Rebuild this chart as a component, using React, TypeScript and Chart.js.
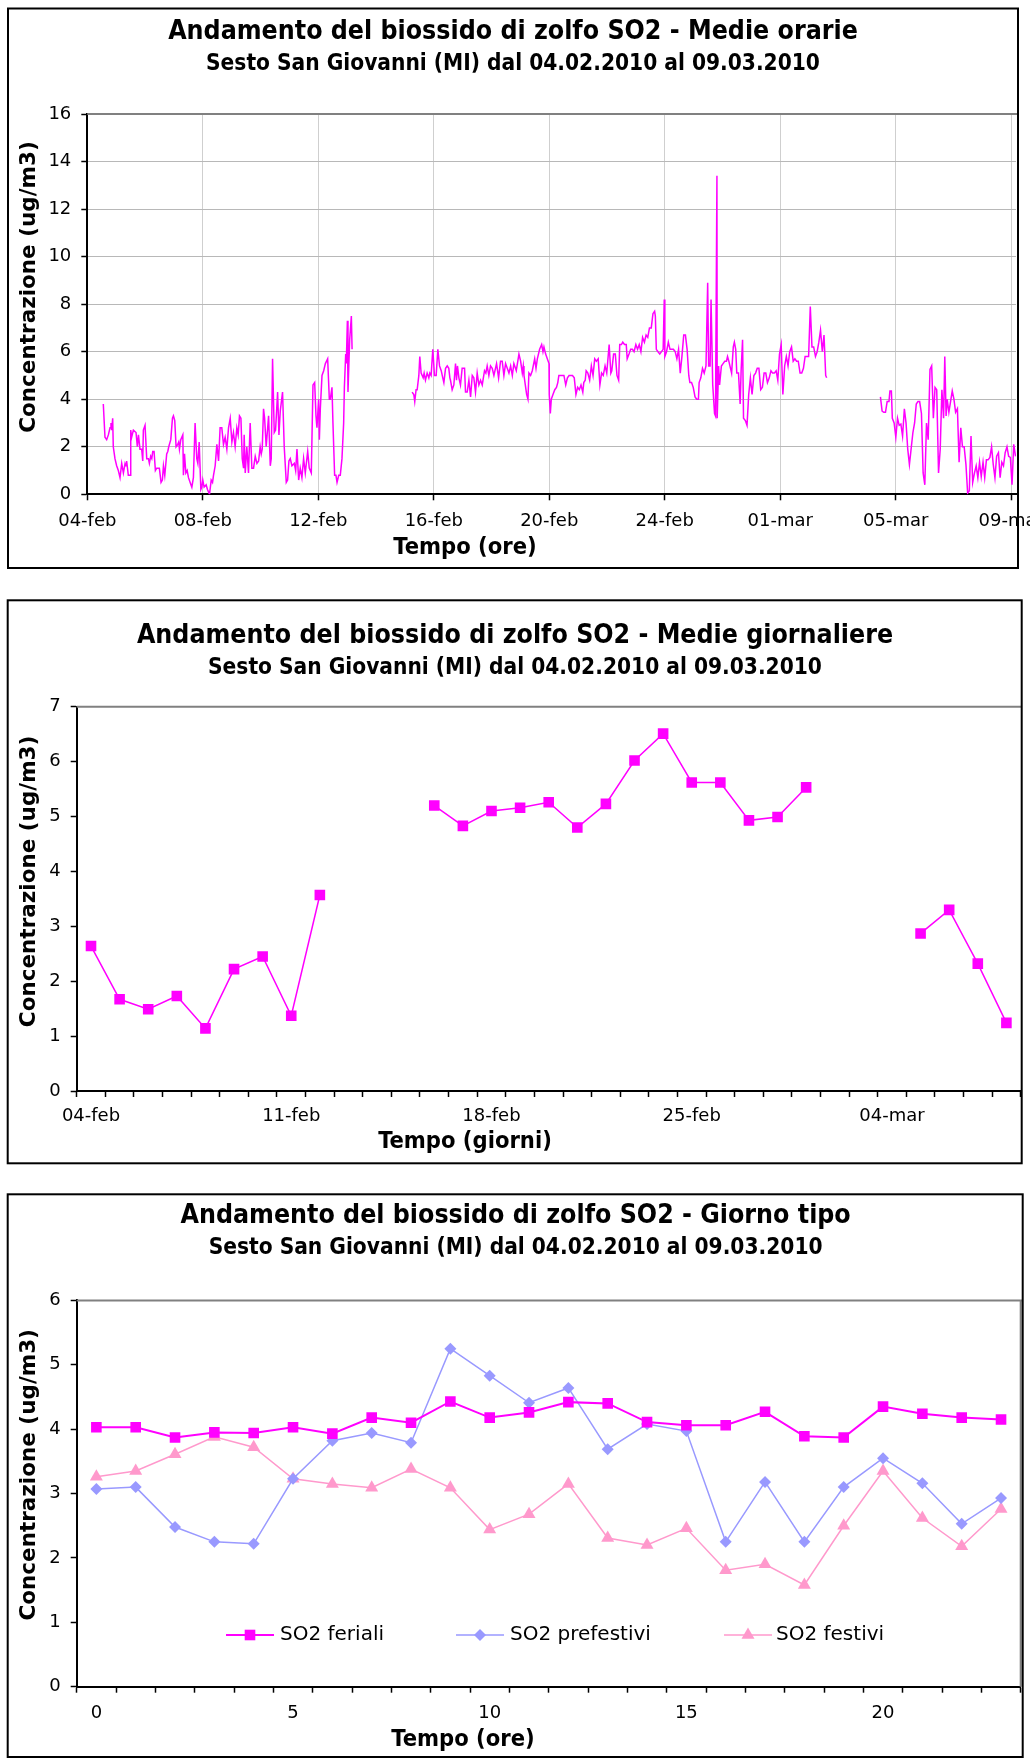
import React, { useEffect, useRef } from 'react';
import { Chart, registerables } from 'chart.js';

Chart.register(...registerables);

const FONT = '"DejaVu Sans", "Liberation Sans", sans-serif';
const COND = '"DejaVu Sans Condensed", "Liberation Sans Narrow", "DejaVu Sans", sans-serif';

const SUBTITLE = 'Sesto San Giovanni (MI) dal 04.02.2010 al 09.03.2010';
const Y_TITLE = 'Concentrazione (ug/m3)';

// ---------- Chart 1: hourly averages (hour since 04-feb 00:00, ug/m3)
const tickOrarie = ['04-feb', '08-feb', '12-feb', '16-feb', '20-feb', '24-feb', '01-mar', '05-mar', '09-mar'];

const orarie1: [number, number][] = [[13.3,3.8],[14.7,2.4],[16.1,2.3],[17.5,2.5],[18.9,2.8],[19.7,3.0],[20.3,2.7],[21.1,3.2],[21.6,2.0],[23.0,1.5],[24.4,1.2],[25.8,1.0],[27.2,0.7],[28.6,1.3],[30.0,0.9],[31.4,1.3],[32.2,1.2],[32.7,1.4],[34.1,0.8],[35.5,0.8],[36.1,2.7],[36.9,2.4],[38.3,2.7],[40.5,2.6],[41.6,2.0],[42.5,2.5],[43.8,1.9],[45.2,1.9],[46.1,1.4],[46.6,2.7],[48.0,2.9],[49.4,1.5],[50.8,1.5],[51.6,1.3],[52.7,1.6],[53.6,1.5],[54.4,1.8],[55.5,1.8],[56.6,1.0],[57.7,1.1],[59.9,1.1],[61.3,0.5],[62.4,0.6],[63.3,1.2],[64.4,0.8],[66.0,1.7],[66.9,1.8],[67.7,2.0],[69.4,2.3],[70.8,3.2],[71.6,3.3],[72.7,3.1],[73.8,2.0],[75.2,2.1],[76.0,2.2],[76.6,1.9],[77.7,2.3],[79.4,2.5],[79.9,0.8],[80.8,1.7],[81.9,0.9],[83.0,1.0],[84.1,0.7],[85.5,0.5],[86.9,0.3],[88.2,0.7],[89.6,3.0],[91.0,1.5],[91.9,1.3],[93.0,2.2],[94.4,0.2],[95.2,0.3],[96.0,0.6],[97.1,0.3],[98.8,0.4],[99.9,0.2],[101.6,0.0],[103.0,0.6],[104.1,0.5],[104.9,0.8],[106.3,1.2],[107.7,2.1],[109.1,1.4],[110.4,2.8],[111.8,2.8],[113.2,2.1],[114.6,2.4],[116.0,1.9],[117.4,2.8],[118.8,3.2],[120.2,2.2],[121.5,2.6],[122.9,2.0],[124.3,2.8],[125.4,2.5],[126.5,3.3],[127.7,3.2],[128.8,1.5],[129.9,1.1],[130.4,2.5],[131.3,0.9],[132.6,2.0],[134.0,0.9],[135.4,3.0],[136.8,1.1],[138.2,1.1],[139.6,1.6],[141.0,1.3],[142.4,1.4],[143.7,2.0],[144.6,1.7],[145.4,1.9],[146.5,3.6],[147.4,3.2],[148.7,2.0],[150.7,3.3],[152.1,1.2],[152.9,1.5],[154.0,5.7],[155.4,2.6],[156.5,2.7],[158.2,4.3],[159.3,2.5],[160.4,3.5],[162.3,4.3],[163.7,2.0],[165.4,0.5],[166.5,0.6],[167.6,1.4],[168.7,1.5],[170.1,1.2],[172.1,1.3],[173.2,1.0],[174.3,1.9],[175.7,0.6],[177.0,1.1],[178.4,0.7],[179.8,1.5],[181.2,0.9],[183.2,1.8],[184.5,1.1],[186.2,0.9],[187.6,4.6],[189.0,4.7],[190.1,3.3],[190.9,2.8],[192.3,4.0],[192.9,2.3],[193.7,3.6],[195.1,5.0],[196.5,5.2],[197.9,5.5],[199.8,5.7],[201.2,4.0],[202.0,4.0],[203.4,4.5],[204.2,3.0],[205.6,0.8],[206.7,0.8],[207.6,0.5],[209.0,0.8],[210.3,0.8],[211.7,1.5],[213.1,3.0],[213.7,4.5],[214.8,5.9],[215.3,5.5],[216.2,7.3],[216.7,4.3],[218.1,6.5],[219.5,7.5],[220.1,6.1]];

const orarie2: [number, number][] = [[270.0,4.3],[271.4,4.2],[272.2,3.9],[273.3,4.4],[274.2,4.4],[275.6,5.0],[276.4,5.8],[277.5,5.1],[279.2,4.9],[280.0,5.1],[281.1,4.8],[282.5,5.1],[283.9,4.9],[284.7,5.1],[285.8,5.0],[287.2,6.1],[288.6,5.0],[290.0,5.0],[291.4,6.1],[292.8,5.4],[294.2,5.2],[295.5,4.9],[296.4,4.7],[297.8,5.3],[299.2,5.4],[300.5,5.3],[301.4,4.9],[301.9,4.8],[303.3,4.4],[304.7,4.6],[306.1,5.5],[306.9,4.8],[307.7,5.4],[308.9,4.9],[310.2,4.6],[311.6,5.3],[313.6,5.3],[314.4,4.3],[315.8,4.3],[317.2,4.8],[318.6,4.1],[320.0,5.0],[321.3,4.9],[322.7,4.3],[324.1,5.1],[325.5,4.6],[326.9,4.8],[328.3,4.6],[330.2,5.2],[331.3,5.1],[332.4,5.4],[333.8,5.0],[335.2,5.4],[336.6,5.3],[338.0,5.0],[340.2,5.5],[341.9,4.9],[343.5,5.6],[344.9,5.6],[346.3,5.0],[347.7,5.5],[349.1,5.3],[350.5,5.1],[351.9,5.4],[353.3,5.0],[354.6,5.5],[356.6,5.2],[358.8,5.9],[360.2,5.6],[361.6,5.1],[362.4,5.4],[363.0,5.0],[365.2,4.2],[366.3,4.0],[367.1,5.1],[368.5,5.0],[369.9,5.2],[371.9,5.7],[373.0,5.3],[374.1,5.7],[376.0,6.1],[377.7,6.3],[378.8,6.0],[379.6,6.2],[381.0,5.9],[383.8,5.5],[384.0,4.2],[384.9,3.4],[385.7,4.0],[387.1,4.2],[388.6,4.4],[390.0,4.5],[391.1,4.7],[392.0,5.0],[393.4,5.0],[396.2,5.0],[397.7,4.6],[399.1,4.9],[400.5,5.0],[401.9,5.0],[403.3,5.0],[404.8,4.9],[406.2,4.2],[407.6,4.5],[409.0,4.4],[410.4,4.6],[411.9,4.3],[412.7,4.7],[413.9,4.8],[414.7,5.2],[416.1,5.1],[417.6,4.8],[419.0,5.4],[420.4,5.0],[421.8,5.7],[423.2,5.6],[424.7,5.7],[426.1,4.6],[427.5,5.1],[428.9,5.0],[430.4,5.4],[431.8,5.1],[433.8,6.3],[435.2,5.1],[436.0,5.2],[437.5,5.9],[438.9,5.9],[440.3,5.0],[441.7,4.8],[442.6,6.3],[444.0,6.3],[445.1,6.4],[446.6,6.3],[448.0,6.3],[448.8,5.7],[450.3,5.9],[451.7,6.1],[453.1,6.1],[454.5,6.0],[456.0,6.3],[457.4,6.1],[458.8,6.3],[460.2,6.0],[461.6,6.6],[463.1,6.4],[464.5,6.7],[465.9,6.6],[467.3,7.0],[468.8,7.0],[470.2,7.6],[471.6,7.7],[472.2,7.5],[473.0,6.1],[474.4,6.0],[475.9,5.9],[477.3,6.0],[478.7,6.1],[479.6,8.2],[480.1,5.8],[481.5,6.0],[483.0,6.4],[484.4,6.1],[485.8,6.1],[487.2,6.1],[488.7,6.0],[490.1,5.7],[491.5,6.1],[492.9,5.1],[494.3,5.8],[495.8,6.7],[497.2,6.7],[498.6,6.1],[500.0,5.0],[500.9,4.7],[502.3,4.7],[503.7,4.5],[505.2,4.1],[506.6,4.0],[508.0,4.0],[508.6,4.7],[510.0,4.9],[511.4,5.3],[512.8,5.1],[514.3,5.4],[515.7,8.9],[516.5,5.4],[517.7,5.4],[518.5,8.2],[519.9,4.6],[521.4,3.4],[522.2,3.3],[523.4,13.4],[523.6,3.2],[524.8,5.4],[525.6,4.6],[527.1,5.4],[528.5,5.5],[529.9,5.6],[531.3,5.6],[532.2,5.8],[533.3,5.6],[534.2,5.4],[535.6,5.1],[537.0,6.2],[537.9,6.4],[539.0,6.1],[539.9,5.1],[541.3,5.1],[542.7,3.8],[543.5,5.2],[544.7,6.5],[545.5,3.2],[547.0,3.1],[548.4,2.9],[549.8,4.2],[551.2,4.9],[552.6,4.2],[554.1,5.0],[555.5,5.1],[556.9,5.3],[558.3,5.3],[559.8,4.4],[561.2,4.5],[562.6,5.1],[564.0,5.1],[565.4,4.7],[566.9,4.9],[568.3,5.2],[569.7,5.1],[571.1,5.1],[572.6,5.2],[574.0,4.8],[575.4,5.9],[576.8,6.3],[578.2,4.2],[579.7,5.4],[581.1,5.8],[582.5,5.4],[583.9,6.0],[585.4,6.2],[586.8,5.6],[588.2,5.7],[589.6,5.6],[591.0,5.6],[592.5,5.1],[593.9,5.1],[595.3,5.3],[596.7,5.8],[599.6,5.8],[601.0,7.9],[602.4,6.2],[603.8,6.2],[605.3,5.8],[606.7,6.0],[608.1,6.4],[609.5,6.9],[611.0,6.0],[612.4,6.7],[613.8,5.0],[614.6,4.9]];

const orarie3: [number, number][] = [[659.3,4.1],[660.7,3.5],[662.1,3.45],[663.5,3.45],[664.9,3.9],[666.4,3.9],[667.2,4.35],[668.4,4.35],[669.2,3.2],[670.7,3.0],[672.1,2.4],[673.5,3.2],[674.9,2.9],[676.3,2.95],[677.7,2.45],[679.2,3.6],[680.6,3.0],[682.0,1.9],[683.4,1.25],[684.8,1.9],[686.3,2.6],[687.7,3.0],[689.1,3.8],[690.5,3.9],[691.9,3.9],[693.4,3.4],[694.8,0.9],[696.2,0.4],[697.6,3.0],[699.0,2.3],[700.5,5.25],[701.9,5.4],[703.3,3.2],[704.7,4.5],[706.1,4.4],[707.6,0.9],[709.0,1.9],[710.4,4.4],[711.8,3.2],[712.8,5.8],[713.9,3.3],[714.8,4.0],[716.2,3.45],[717.6,3.9],[719.0,4.35],[720.4,4.0],[721.8,3.45],[723.3,3.6],[724.7,1.35],[726.1,2.8],[727.5,2.0],[728.9,2.0],[730.4,1.25],[731.8,0.05],[733.2,0.15],[734.6,2.45],[736.0,0.5],[737.5,0.9],[738.9,1.2],[740.3,0.7],[741.7,1.35],[743.1,0.75],[744.6,1.35],[746.0,0.7],[747.4,1.45],[748.8,1.45],[750.3,1.55],[751.7,2.0],[753.1,1.25],[754.5,0.7],[755.9,1.6],[757.4,1.75],[758.8,0.7],[760.2,1.35],[761.6,1.2],[763.0,1.75],[764.5,2.0],[765.9,1.6],[767.3,1.55],[768.7,0.4],[770.1,2.1],[771.6,1.6]];

// ---------- Chart 2: daily averages
const giorni = ['04-feb','05-feb','06-feb','07-feb','08-feb','09-feb','10-feb','11-feb','12-feb','13-feb','14-feb','15-feb','16-feb','17-feb','18-feb','19-feb','20-feb','21-feb','22-feb','23-feb','24-feb','25-feb','26-feb','27-feb','28-feb','01-mar','02-mar','03-mar','04-mar','05-mar','06-mar','07-mar','08-mar'];
const medieGiornaliere: (number | null)[] = [2.64,1.67,1.49,1.73,1.14,2.22,2.45,1.37,3.57,null,null,null,5.2,4.83,5.1,5.16,5.26,4.8,5.23,6.02,6.51,5.62,5.62,4.93,4.99,5.53,null,null,null,2.87,3.3,2.32,1.24];

// ---------- Chart 3: typical day
const ore = ['0','1','2','3','4','5','6','7','8','9','10','11','12','13','14','15','16','17','18','19','20','21','22','23'];
const feriali = [4.03,4.03,3.87,3.95,3.94,4.03,3.93,4.18,4.1,4.43,4.18,4.26,4.42,4.4,4.11,4.06,4.06,4.27,3.89,3.87,4.35,4.24,4.18,4.15];
const prefestivi = [3.07,3.1,2.48,2.25,2.22,3.23,3.82,3.94,3.79,5.25,4.83,4.41,4.64,3.69,4.08,3.97,2.25,3.18,2.25,3.1,3.55,3.16,2.53,2.93];
const festivi = [3.26,3.35,3.61,3.88,3.72,3.23,3.15,3.09,3.38,3.09,2.44,2.68,3.15,2.31,2.2,2.46,1.81,1.9,1.58,2.5,3.35,2.62,2.18,2.76];

type Decor = {
  name: string;
  title: string;
  titleX: number; t1y: number; t2y: number;
  xTitle: string; xtx: number; xty: number;
  ytx: number; yty: number;
  frame: [number, number, number, number];
  rightLine?: boolean;
  legend?: { y: number; items: { sx: number; tx: number }[] };
};

function drawMarker(ctx: CanvasRenderingContext2D, style: string, x: number, y: number, r: number) {
  ctx.beginPath();
  if (style === 'rect') {
    const s = Math.SQRT1_2 * r;
    ctx.rect(x - s, y - s, 2 * s, 2 * s);
  } else if (style === 'rectRot') {
    ctx.moveTo(x - r, y); ctx.lineTo(x, y - r); ctx.lineTo(x + r, y); ctx.lineTo(x, y + r); ctx.closePath();
  } else if (style === 'triangle') {
    ctx.moveTo(x, y - r);
    ctx.lineTo(x + Math.sin(2 * Math.PI / 3) * r, y + r / 2);
    ctx.lineTo(x - Math.sin(2 * Math.PI / 3) * r, y + r / 2);
    ctx.closePath();
  }
  ctx.fill();
}

function makeDecor(cfg: Decor) {
  return {
    id: 'decor_' + cfg.name,
    beforeDraw(chart: any) {
      const ctx = chart.ctx as CanvasRenderingContext2D;
      ctx.save();
      ctx.fillStyle = '#ffffff';
      ctx.fillRect(0, 0, chart.width, chart.height);
      ctx.restore();
    },
    afterDraw(chart: any) {
      const ctx = chart.ctx as CanvasRenderingContext2D;
      const a = chart.chartArea;
      const [fx, fy, fw, fh] = cfg.frame;
      ctx.save();
      ctx.strokeStyle = '#808080';
      ctx.lineWidth = 2;
      ctx.beginPath();
      ctx.moveTo(a.left, a.top);
      ctx.lineTo(fx + fw, a.top);
      ctx.stroke();
      if (cfg.rightLine) {
        ctx.beginPath();
        ctx.moveTo(a.right, a.top);
        ctx.lineTo(a.right, a.bottom);
        ctx.stroke();
      }
      ctx.fillStyle = '#000';
      ctx.textAlign = 'center';
      ctx.textBaseline = 'middle';
      ctx.font = `bold 26.5px ${COND}`;
      ctx.fillText(cfg.title, cfg.titleX, cfg.t1y);
      ctx.font = `bold 22.5px ${COND}`;
      ctx.fillText(SUBTITLE, cfg.titleX, cfg.t2y);
      ctx.font = `bold 23.5px ${COND}`;
      ctx.fillText(cfg.xTitle, cfg.xtx, cfg.xty);
      ctx.save();
      ctx.translate(cfg.ytx, cfg.yty);
      ctx.rotate(-Math.PI / 2);
      ctx.font = `bold 21.5px ${FONT}`;
      ctx.fillText(Y_TITLE, 0, 0);
      ctx.restore();
      if (cfg.legend) {
        const lg = cfg.legend;
        chart.data.datasets.forEach((ds: any, i: number) => {
          const it = lg.items[i];
          ctx.strokeStyle = ds.borderColor;
          ctx.lineWidth = ds.borderWidth;
          ctx.beginPath();
          ctx.moveTo(it.sx, lg.y);
          ctx.lineTo(it.sx + 48, lg.y);
          ctx.stroke();
          ctx.fillStyle = ds.pointBackgroundColor;
          drawMarker(ctx, ds.pointStyle, it.sx + 24, lg.y, ds.pointRadius);
          ctx.fillStyle = '#000';
          ctx.textAlign = 'left';
          ctx.font = `20px ${FONT}`;
          ctx.fillText(ds.label, it.tx, lg.y);
        });
      }
      ctx.strokeStyle = '#000';
      ctx.lineWidth = 2;
      ctx.strokeRect(fx, fy, fw, fh);
      ctx.restore();
    },
  };
}

const tickFont = { family: FONT, size: 18 };

function useChart(ref: React.RefObject<HTMLCanvasElement>, build: () => any) {
  useEffect(() => {
    if (!ref.current) return;
    const chart = new Chart(ref.current, build());
    return () => chart.destroy();
  }, []);
}

function fixY(width: number) {
  return (s: any) => { s.width = width; s.paddingTop = 0; s.paddingBottom = 0; };
}
function fixX(height: number) {
  return (s: any) => { s.height = height; s.paddingLeft = 0; s.paddingRight = 0; };
}

export default function App() {
  const c1 = useRef<HTMLCanvasElement>(null);
  const c2 = useRef<HTMLCanvasElement>(null);
  const c3 = useRef<HTMLCanvasElement>(null);

  useChart(c1, () => {
    const pts: { x: number; y: number | null }[] = [];
    [orarie1, orarie2, orarie3].forEach((seg, i) => {
      if (i > 0) pts.push({ x: seg[0][0] - 1, y: null });
      seg.forEach(([x, y]) => pts.push({ x, y }));
    });
    return {
      type: 'line',
      data: { datasets: [{ label: 'SO2', data: pts, borderColor: '#ff00ff', borderWidth: 1.5, pointRadius: 0, tension: 0, spanGaps: false }] },
      options: {
        responsive: false, animation: false, events: [],
        layout: { padding: { left: 0, top: 114, right: 14, bottom: 0 } },
        plugins: { legend: { display: false }, tooltip: { enabled: false } },
        scales: {
          x: {
            type: 'linear', min: 0, max: 772,
            afterBuildTicks: (s: any) => { s.ticks = tickOrarie.map((_, i) => ({ value: i * 96 })); },
            afterFit: fixX(585 - 494.3),
            ticks: { autoSkip: false, maxRotation: 0, padding: 10, color: '#000', font: tickFont, callback: (v: any) => tickOrarie[Math.round(v / 96)] },
            grid: { color: '#cfcfcf', lineWidth: 1, tickColor: '#000', tickLength: 6, tickWidth: 1.5 },
            border: { color: '#000', width: 2 },
          },
          y: {
            min: 0, max: 16,
            afterFit: fixY(87.3),
            ticks: { stepSize: 2, padding: 10, color: '#000', font: tickFont },
            grid: { color: '#b8b8b8', lineWidth: 1, borderDash: [2, 2], tickColor: '#000', tickLength: 6, tickWidth: 1.5 },
            border: { color: '#000', width: 2 },
          },
        },
      },
      plugins: [makeDecor({
        name: 'c1', title: 'Andamento del biossido di zolfo SO2 - Medie orarie',
        titleX: 513, t1y: 32, t2y: 64.5, xTitle: 'Tempo (ore)', xtx: 465, xty: 548,
        ytx: 29, yty: 287, frame: [8, 8.5, 1010, 559.5],
      })],
    };
  });

  useChart(c2, () => ({
    type: 'line',
    data: {
      labels: giorni,
      datasets: [{ label: 'SO2', data: medieGiornaliere, borderColor: '#ff00ff', borderWidth: 1.5, pointStyle: 'rect', pointRadius: 7.5, pointBackgroundColor: '#ff00ff', pointBorderColor: '#ff00ff', pointBorderWidth: 0, tension: 0, spanGaps: false }],
    },
    options: {
      responsive: false, animation: false, events: [],
      layout: { padding: { left: 0, top: 121.7, right: 15.3, bottom: 0 } },
      plugins: { legend: { display: false }, tooltip: { enabled: false } },
      scales: {
        x: {
          type: 'category', offset: true,
          afterFit: fixX(595 - 506),
          ticks: { autoSkip: false, maxRotation: 0, padding: 9, color: '#000', font: tickFont, callback: (_v: any, i: number) => (i % 7 === 0 ? giorni[i] : '') },
          grid: { offset: true, drawOnChartArea: false, tickColor: '#000', tickLength: 6, tickWidth: 1.5 },
          border: { color: '#000', width: 2 },
        },
        y: {
          min: 0, max: 7,
          afterFit: fixY(76.7),
          ticks: { stepSize: 1, padding: 10, color: '#000', font: tickFont },
          grid: { drawOnChartArea: false, tickColor: '#000', tickLength: 6, tickWidth: 1.5 },
          border: { color: '#000', width: 2 },
        },
      },
    },
    plugins: [makeDecor({
      name: 'c2', title: 'Andamento del biossido di zolfo SO2 - Medie giornaliere',
      titleX: 515, t1y: 51.4, t2y: 82.8, xTitle: 'Tempo (giorni)', xtx: 465, xty: 557,
      ytx: 29, yty: 296.4, frame: [7.7, 15.3, 1014, 563],
    })],
  }));

  useChart(c3, () => ({
    type: 'line',
    data: {
      labels: ore,
      datasets: [
        { label: 'SO2 feriali', data: feriali, borderColor: '#ff00ff', borderWidth: 2, pointStyle: 'rect', pointRadius: 7.5, pointBackgroundColor: '#ff00ff', pointBorderColor: '#ff00ff', pointBorderWidth: 0, tension: 0, order: 0 },
        { label: 'SO2 prefestivi', data: prefestivi, borderColor: '#9999ff', borderWidth: 1.5, pointStyle: 'rectRot', pointRadius: 6, pointBackgroundColor: '#9999ff', pointBorderColor: '#9999ff', pointBorderWidth: 0, tension: 0, order: 1 },
        { label: 'SO2 festivi', data: festivi, borderColor: '#ff99cc', borderWidth: 1.5, pointStyle: 'triangle', pointRadius: 7.5, pointBackgroundColor: '#ff99cc', pointBorderColor: '#ff99cc', pointBorderWidth: 0, tension: 0, order: 2 },
      ],
    },
    options: {
      responsive: false, animation: false, events: [],
      layout: { padding: { left: 0, top: 120.4, right: 15.3, bottom: 0 } },
      plugins: { legend: { display: false }, tooltip: { enabled: false } },
      scales: {
        x: {
          type: 'category', offset: true,
          afterFit: fixX(578 - 506.7),
          ticks: { autoSkip: false, maxRotation: 0, padding: 10, color: '#000', font: tickFont, callback: (_v: any, i: number) => (i % 5 === 0 ? ore[i] : '') },
          grid: { offset: true, drawOnChartArea: false, tickColor: '#000', tickLength: 6, tickWidth: 1.5 },
          border: { color: '#000', width: 2 },
        },
        y: {
          min: 0, max: 6,
          afterFit: fixY(76.7),
          ticks: { stepSize: 1, padding: 10, color: '#000', font: tickFont },
          grid: { drawOnChartArea: false, tickColor: '#000', tickLength: 6, tickWidth: 1.5 },
          border: { color: '#000', width: 2 },
        },
      },
    },
    plugins: [makeDecor({
      name: 'c3', title: 'Andamento del biossido di zolfo SO2 - Giorno tipo',
      titleX: 515.6, t1y: 36, t2y: 68.6, xTitle: 'Tempo (ore)', xtx: 463, xty: 560,
      ytx: 29, yty: 294.8, frame: [7.7, 14.3, 1015, 562.7], rightLine: true,
      legend: { y: 455, items: [{ sx: 226, tx: 280 }, { sx: 456, tx: 510 }, { sx: 724, tx: 776 }] },
    })],
  }));

  return (
    <div style={{ position: 'fixed', left: 0, top: 0, width: 1036, height: 1758, background: '#fff', overflow: 'hidden' }}>
      <canvas ref={c1} width={1030} height={585} style={{ position: 'absolute', left: 0, top: 0, width: 1030, height: 585 }} />
      <canvas ref={c2} width={1036} height={595} style={{ position: 'absolute', left: 0, top: 585, width: 1036, height: 595 }} />
      <canvas ref={c3} width={1036} height={578} style={{ position: 'absolute', left: 0, top: 1180, width: 1036, height: 578 }} />
    </div>
  );
}
